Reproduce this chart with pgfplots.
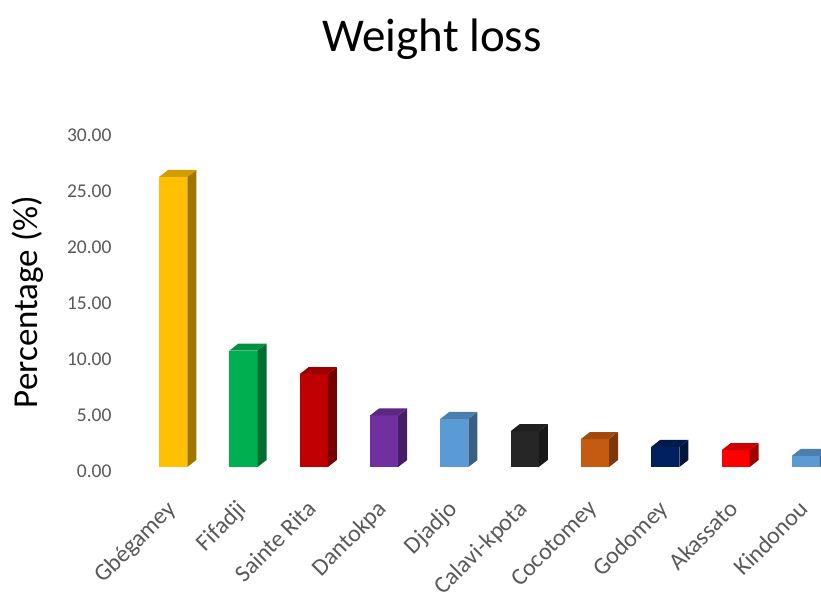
\documentclass[border=0pt]{standalone}
\usepackage{pgfplots}
\pgfplotsset{compat=1.18}
\usepackage{pgfplotstable}
\usepackage{fontspec}
\setmainfont{Carlito}
\definecolor{c0}{HTML}{FFC000}
\definecolor{c1}{HTML}{00B050}
\definecolor{c2}{HTML}{C00000}
\definecolor{c3}{HTML}{7030A0}
\definecolor{c4}{HTML}{5B9BD5}
\definecolor{c5}{HTML}{262626}
\definecolor{c6}{HTML}{C55A11}
\definecolor{c7}{HTML}{002060}
\definecolor{c8}{HTML}{FF0000}
\definecolor{c9}{HTML}{5B9BD5}
\definecolor{labgrey}{HTML}{595959}
\pgfplotstableread{
idx val
0 25.9
1 10.4
2 8.3
3 4.6
4 4.3
5 3.2
6 2.5
7 1.8
8 1.5
9 1.0
}\lossdata
\begin{document}
\begin{tikzpicture}[x=1pt,y=1pt]
\useasboundingbox (0,0) rectangle (821,603);
\begin{axis}[
  at={(124pt,136pt)}, anchor=south west,
  x=70.3pt, y=11.2pt,
  xmin=-0.7, xmax=9.21, ymin=0, ymax=30,
  clip=false,
  axis line style={draw=none},
  tick style={draw=none},
  major tick length=0pt,
  ytick={0,5,...,30},
  xtick={0,...,9},
  xticklabels={Gbégamey,Fifadji,Sainte Rita,Dantokpa,Djadjo,Calavi-kpota,Cocotomey,Godomey,Akassato,Kindonou},
  xticklabel style={xshift=-8pt, yshift=-30pt, rotate=45, anchor=north east, inner sep=1pt, font=\fontsize{24}{28}\selectfont, text=labgrey},
  yticklabel style={font=\fontsize{19.5}{22}\selectfont, text=labgrey, xshift=-9pt, yshift=-4pt,
    /pgf/number format/.cd, fixed, fixed zerofill, precision=2, assume math mode=true},
]
\pgfplotsforeachungrouped \i in {0,...,9}{%
  \pgfplotstablegetelem{\i}{val}\of\lossdata
  \let\bv\pgfplotsretval
  \pgfmathsetmacro\xa{\i-0.2}%
  \pgfmathsetmacro\xb{\i+0.2}%
  \pgfmathsetmacro\xc{\i+0.328}%
  \pgfmathsetmacro\xd{\i-0.072}%
  \pgfmathsetmacro\vt{\bv+0.625}%
  \edef\cmd{%
    \noexpand\addplot[draw=none, fill=c\i] coordinates {(\xa,0) (\xb,0) (\xb,\bv) (\xa,\bv)};
    \noexpand\addplot[draw=none, fill=c\i!62!black] coordinates {(\xb,0) (\xc,0.625) (\xc,\vt) (\xb,\bv)};
    \noexpand\addplot[draw=none, fill=c\i!82!black] coordinates {(\xa,\bv) (\xb,\bv) (\xc,\vt) (\xd,\vt)};
  }\cmd
}
\end{axis}
\node[font=\fontsize{47}{50}\selectfont, anchor=base] at (432,551) {Weight loss};
\node[font=\fontsize{35}{40}\selectfont, rotate=90] at (27.5,301) {Percentage (\%)};
\end{tikzpicture}
\end{document}
